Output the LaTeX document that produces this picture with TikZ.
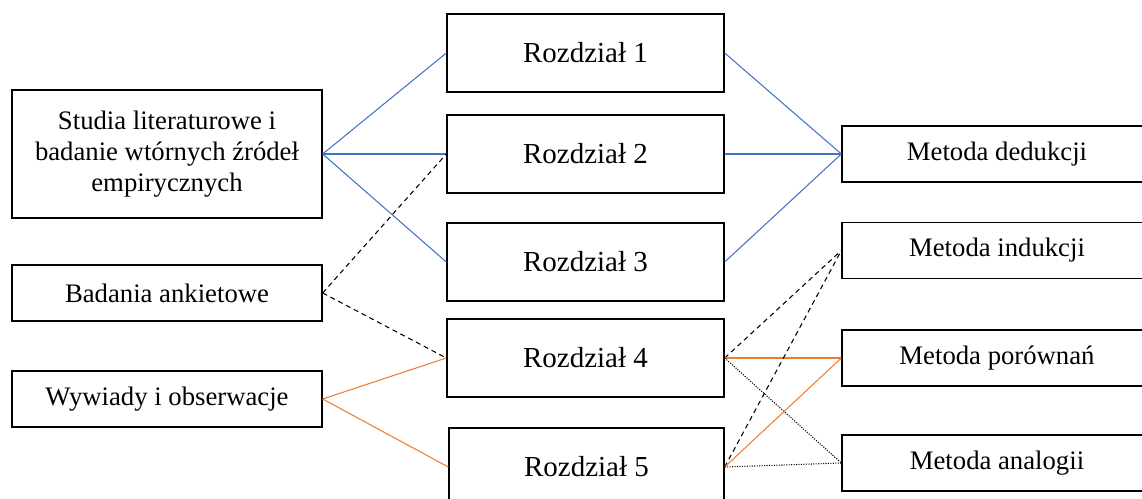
\documentclass[tikz,border=0pt]{standalone}
\usepackage{fontspec}
\setmainfont{Liberation Serif}
\definecolor{liniaB}{HTML}{4472C4}
\definecolor{liniaO}{HTML}{ED7D31}

\begin{document}
\begin{tikzpicture}[x=0.02cm, y=-0.02cm,
  zrodlo/.style={draw, line width=0.8pt, minimum width=6.2cm, minimum height=1.12cm, inner sep=0pt, align=center, font=\fontsize{15.2}{17.8}\selectfont},
  rozdz/.style={draw, line width=0.8pt, minimum width=5.54cm, minimum height=1.56cm, inner sep=0pt, font=\fontsize{16.5}{19}\selectfont},
  metoda/.style={zrodlo},
  nieb/.style={color=liniaB, line width=0.6pt},
  pom/.style={color=liniaO, line width=0.6pt},
  kreska/.style={dash pattern=on 2.8pt off 2.2pt, line width=0.6pt},
  kropka/.style={dash pattern=on 0.6pt off 0.8pt, line width=0.6pt}]
\clip (0,0) rectangle (1142,499);

\node (studia) at (167,154) [zrodlo, minimum height=2.56cm] {Studia literaturowe i\\badanie wtórnych źródeł\\empirycznych};
\node (ankiety) at (167,293) [zrodlo] {Badania ankietowe};
\node (wywiady) at (167,399) [zrodlo] {Wywiady i obserwacje};

\node (rozdz1) at (585.5,53) [rozdz] {Rozdział 1};
\node (rozdz2) at (585.5,154) [rozdz] {Rozdział 2};
\node (rozdz3) at (585.5,262) [rozdz] {Rozdział 3};
\node (rozdz4) at (585.5,358) [rozdz] {Rozdział 4};
\node (rozdz5) at (586.5,467) [rozdz, minimum width=5.5cm] {Rozdział 5};

\node (dedukcja) at (997,154) [metoda] {Metoda dedukcji};
\node (indukcja) at (997,250.5) [metoda] {Metoda indukcji};
\node (porownanie) at (997,358) [metoda] {Metoda porównań};
\node (analogia) at (997,463) [metoda] {Metoda analogii};

\draw [nieb] (studia.east) -- (rozdz1.west);
\draw [nieb] (studia.east) -- (rozdz2.west);
\draw [nieb] (studia.east) -- (rozdz3.west);
\draw [nieb] (rozdz1.east) -- (dedukcja.west);
\draw [nieb] (rozdz2.east) -- (dedukcja.west);
\draw [nieb] (rozdz3.east) -- (dedukcja.west);

\draw [kreska] (ankiety.east) -- (rozdz2.west);
\draw [kreska] (ankiety.east) -- (rozdz4.west);
\draw [pom] (wywiady.east) -- (rozdz4.west);
\draw [pom] (wywiady.east) -- (rozdz5.west);

\draw [kreska] (rozdz4.east) -- (indukcja.west);
\draw [pom] (rozdz4.east) -- (porownanie.west);
\draw [kropka] (rozdz4.east) -- (analogia.west);
\draw [kreska] (rozdz5.east) -- (indukcja.west);
\draw [pom] (rozdz5.east) -- (porownanie.west);
\draw [kropka] (rozdz5.east) -- (analogia.west);

\end{tikzpicture}
\end{document}
